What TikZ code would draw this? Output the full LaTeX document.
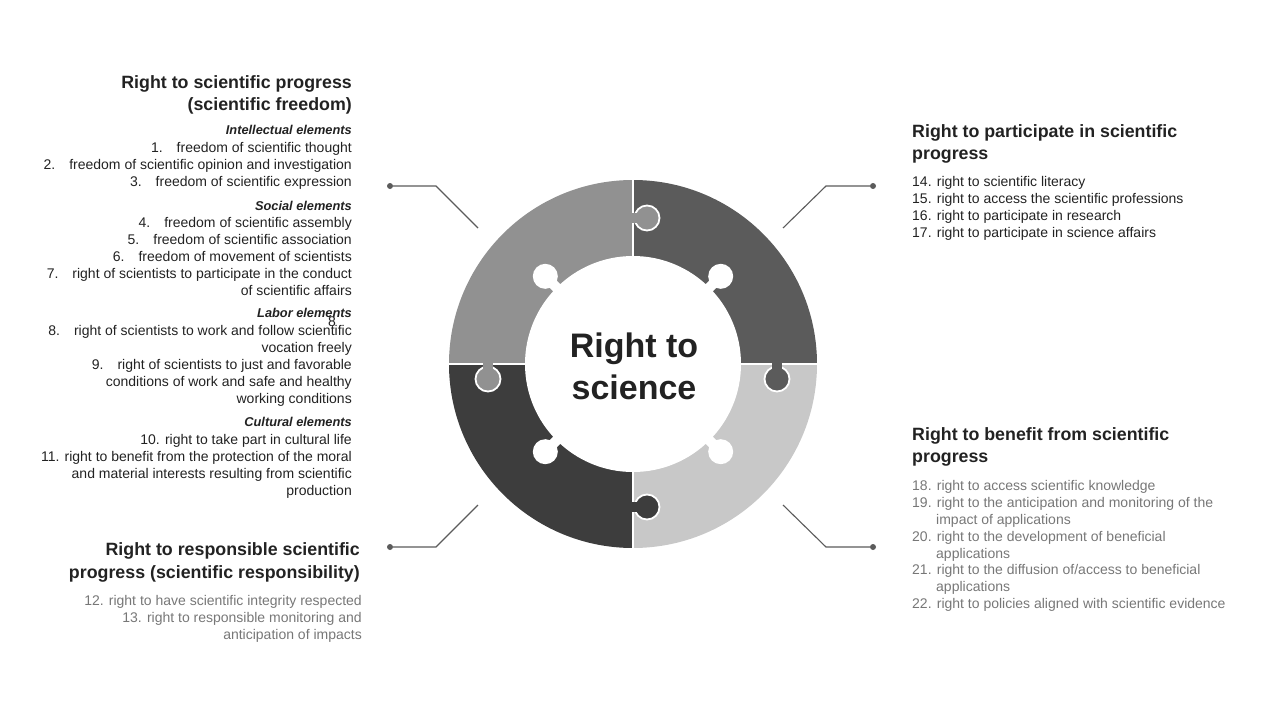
\documentclass[tikz,border=0pt]{standalone}
\usepackage{fontspec}
\setmainfont{Liberation Sans}
\usepackage{tikz}

\definecolor{pieceA}{HTML}{919191}
\definecolor{pieceB}{HTML}{5B5B5B}
\definecolor{pieceC}{HTML}{C8C8C8}
\definecolor{pieceD}{HTML}{3D3D3D}
\definecolor{ink}{HTML}{222222}
\definecolor{soft}{HTML}{777777}

\tikzset{
  head/.style={font=\fontsize{17.8}{21}\selectfont\bfseries, text=ink, inner sep=0pt},
  sub/.style={font=\fontsize{12.8}{15}\selectfont\bfseries\itshape, text=ink, inner sep=0pt},
  item/.style={font=\fontsize{14}{16}\selectfont, text=ink, inner sep=0pt},
  dot/.style={circle, fill=pieceB, inner sep=0pt, minimum size=6pt},
  lead/.style={draw=pieceB, line width=1.1pt},
  tab/.style={draw=white, line width=1.8pt}
}

\begin{document}
\begin{tikzpicture}[x=1pt,y=-1pt]
\useasboundingbox (0,0) rectangle (1280,720);

% puzzle ring
\fill[pieceA] (633,364) -- ++(180:184) arc (180:270:184) -- cycle;
\fill[pieceB] (633,364) -- ++(270:184) arc (270:360:184) -- cycle;
\fill[pieceC] (633,364) -- ++(0:184) arc (0:90:184) -- cycle;
\fill[pieceD] (633,364) -- ++(90:184) arc (90:180:184) -- cycle;
\draw[white, line width=2.5pt] (633,176) -- (633,552) (445,364) -- (821,364);
\filldraw[tab, fill=pieceA] (647,218) circle (12.5);
\filldraw[tab, fill=pieceB] (777,379) circle (12.5);
\filldraw[tab, fill=pieceD] (647,507) circle (12.5);
\filldraw[tab, fill=pieceA] (488,379) circle (12.5);
\fill[pieceA] (630,213) rectangle (642,223);
\fill[pieceB] (772,361) rectangle (782,372);
\fill[pieceD] (630,502) rectangle (642,512);
\fill[pieceA] (483,361) rectangle (493,372);
\fill[white] (633,364) circle (108);
\foreach \a in {45,135,225,315} {
  \fill[white] (633,364) ++(\a:124) circle (12.5);
  \draw[white, line width=10pt] (633,364) -- ++(\a:120);
}
\node[font=\fontsize{34}{42}\selectfont\bfseries, text=ink, align=center] (core) at (634,366) {Right to\\science};

% leaders
\node[dot] (dTL) at (390,186) {};
\node[dot] (dBL) at (390,547) {};
\node[dot] (dTR) at (873,186) {};
\node[dot] (dBR) at (873,547) {};
\coordinate (eTL) at (478,228);
\coordinate (eBL) at (478,505);
\coordinate (eTR) at (783,228);
\coordinate (eBR) at (783,505);
\draw[lead] (dTL) -- (436,186) -- (eTL);
\draw[lead] (dBL) -- (436,547) -- (eBL);
\draw[lead] (dTR) -- (826,186) -- (eTR);
\draw[lead] (dBR) -- (826,547) -- (eBR);

% left upper block
\node[head, anchor=base east] (freedomA) at (352,88) {Right to scientific progress};
\node[head, anchor=base east] (freedomB) at (352,110) {(scientific freedom)};
\foreach \y/\t in {130/{Intellectual elements}, 206/{Social elements}, 313/{Labor elements}, 422/{Cultural elements}}
  \node[sub, anchor=base east] at (352,\y+4.5) {\t};
\foreach \y/\t in {147/{1.\quad freedom of scientific thought},
  164/{2.\quad freedom of scientific opinion and investigation},
  181/{3.\quad freedom of scientific expression},
  222/{4.\quad freedom of scientific assembly},
  239/{5.\quad freedom of scientific association},
  256/{6.\quad freedom of movement of scientists},
  273/{7.\quad right of scientists to participate in the conduct},
  290/{of scientific affairs},
  330/{8.\quad right of scientists to work and follow scientific},
  347/{vocation freely},
  364/{9.\quad right of scientists to just and favorable},
  381/{conditions of work and safe and healthy},
  398/{working conditions},
  439/{10. right to take part in cultural life},
  456/{11. right to benefit from the protection of the moral},
  473/{and material interests resulting from scientific},
  490/{production}}
  \node[item, anchor=base east] at (352,\y+5) {\t};
\node[item] (stray) at (332,322) {8};

% left lower block
\node[head, anchor=base east] (respA) at (360,555) {Right to responsible scientific};
\node[head, anchor=base east] (respB) at (360,578) {progress (scientific responsibility)};
\foreach \y/\t in {600/{12. right to have scientific integrity respected},
  617/{13. right to responsible monitoring and},
  634/{anticipation of impacts}}
  \node[item, text=soft, anchor=base east] at (362,\y+5) {\t};

% right upper block
\node[head, anchor=base west] (partA) at (912,137) {Right to participate in scientific};
\node[head, anchor=base west] (partB) at (912,159) {progress};
\foreach \y/\t in {181/{14. right to scientific literacy},
  198/{15. right to access the scientific professions},
  215/{16. right to participate in research},
  232/{17. right to participate in science affairs}}
  \node[item, anchor=base west] at (912,\y+5) {\t};

% right lower block
\node[head, anchor=base west] (benA) at (912,440) {Right to benefit from scientific};
\node[head, anchor=base west] (benB) at (912,462) {progress};
\foreach \x/\y/\t in {912/485/{18. right to access scientific knowledge},
  912/502/{19. right to the anticipation and monitoring of the},
  936/519/{impact of applications},
  912/536/{20. right to the development of beneficial},
  936/553/{applications},
  912/569/{21. right to the diffusion of/access to beneficial},
  936/586/{applications},
  912/603/{22. right to policies aligned with scientific evidence}}
  \node[item, text=soft, anchor=base west] at (\x,\y+5) {\t};
\end{tikzpicture}
\end{document}
